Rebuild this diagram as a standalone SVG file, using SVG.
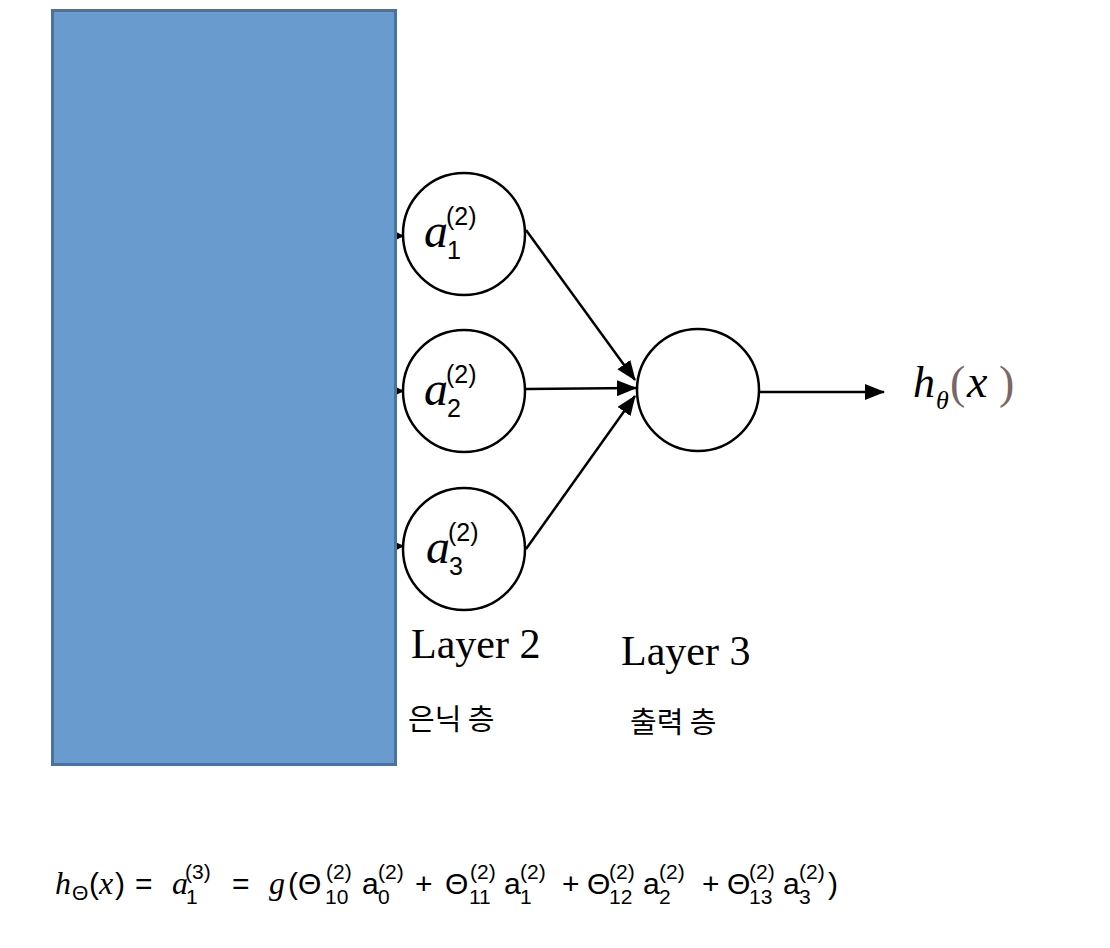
<svg xmlns="http://www.w3.org/2000/svg" width="1110" height="948" viewBox="0 0 1110 948">
<style>
.node{fill:#fff;stroke:#000;stroke-width:2.5}
.conn{stroke:#000;stroke-width:2.5;fill:none;marker-end:url(#ah)}
.m{font-family:"Liberation Serif",serif;font-style:italic;fill:#000}
.d{font-family:"Liberation Sans",sans-serif;fill:#000}
.lab{font-family:"Liberation Serif",serif;font-size:42px;fill:#000}
.kr{font-family:"Noto Sans CJK KR",sans-serif;font-size:29px;fill:#000}
.f{font-family:"Liberation Sans",sans-serif;font-size:30px;fill:#000}
.fi{font-family:"Liberation Serif",serif;font-style:italic;font-size:32px;fill:#000}
.s{font-family:"Liberation Sans",sans-serif;font-size:21px;fill:#000}
</style>
<defs>
<marker id="ah" markerWidth="12" markerHeight="12" refX="11" refY="6" orient="auto" markerUnits="userSpaceOnUse" viewBox="0 0 12 12"><path d="M0,0 L12,6 L0,12 z" fill="#000"/></marker>
<marker id="ah2" markerWidth="20" markerHeight="16" refX="19" refY="8" orient="auto" markerUnits="userSpaceOnUse" viewBox="0 0 20 16"><path d="M0,0 L20,8 L0,16 z" fill="#000"/></marker>
</defs>
<rect width="1110" height="948" fill="#fff"/>
<g id="connectors">
<line x1="300" y1="234" x2="403" y2="236" class="conn"/>
<line x1="300" y1="391" x2="403" y2="391" class="conn"/>
<line x1="300" y1="549" x2="403" y2="546" class="conn"/>
<line x1="526" y1="230" x2="635" y2="380" stroke="#000" stroke-width="2.5" marker-end="url(#ah2)"/>
<line x1="526" y1="389" x2="636" y2="388" stroke="#000" stroke-width="2.5" marker-end="url(#ah2)"/>
<line x1="526" y1="549" x2="635" y2="396" stroke="#000" stroke-width="2.5" marker-end="url(#ah2)"/>
<line x1="760" y1="392" x2="884" y2="392" stroke="#000" stroke-width="2.5" marker-end="url(#ah2)"/>
</g>
<g id="input-block">
<rect x="52.5" y="10.5" width="343" height="754" fill="#6a9bcf" stroke="#4a71a0" stroke-width="3"/>
</g>
<g id="a1">
<circle cx="464" cy="234" r="61" class="node"/>
<text x="424" y="247" class="m" font-size="48">a</text>
<text x="447" y="259" class="d" font-size="25">1</text>
<text x="446" y="225" class="d" font-size="25">(2)</text>
</g>
<g id="a2">
<circle cx="464" cy="391" r="61" class="node"/>
<text x="424" y="405" class="m" font-size="48">a</text>
<text x="447" y="417" class="d" font-size="25">2</text>
<text x="446" y="383" class="d" font-size="25">(2)</text>
</g>
<g id="a3">
<circle cx="464" cy="549" r="61" class="node"/>
<text x="426" y="563" class="m" font-size="48">a</text>
<text x="449" y="575" class="d" font-size="25">3</text>
<text x="448" y="541" class="d" font-size="25">(2)</text>
</g>
<g id="out">
<circle cx="698" cy="390" r="61" class="node"/>
</g>
<g id="h-label">
<text x="913" y="397" class="m" font-size="44">h</text>
<text x="936" y="409" class="m" font-size="26">θ</text>
<text x="950" y="398" font-family="Liberation Serif,serif" font-size="46" fill="#7a6664">(</text>
<text x="967" y="397" class="m" font-size="46">x</text>
<text x="999" y="398" font-family="Liberation Serif,serif" font-size="46" fill="#7a6664">)</text>
</g>
<g id="labels">
<text x="411" y="658" class="lab">Layer 2</text>
<text x="621" y="665" class="lab">Layer 3</text>
<text x="408" y="730" class="kr">은닉 층</text>
<text x="630" y="733" class="kr">출력 층</text>
</g>
<g id="formula">
<text x="55" y="894" class="fi">h</text>
<text x="72" y="900" class="s" font-size="16">Θ</text>
<text x="89" y="894" class="f">(</text>
<text x="99" y="894" class="fi">x</text>
<text x="115" y="894" class="f">)</text>
<text x="135" y="894" class="f">=</text>
<text x="172" y="894" class="fi">a</text>
<text x="186" y="904" class="s">1</text>
<text x="185" y="879" class="s">(3)</text>
<text x="232" y="894" class="f">=</text>
<text x="269" y="894" class="fi">g</text>
<text x="288" y="894" class="f">(Θ</text>
<text x="325" y="904" class="s">10</text>
<text x="326" y="879" class="s">(2)</text>
<text x="362" y="894" class="f">a</text>
<text x="378" y="904" class="s">0</text>
<text x="378" y="879" class="s">(2)</text>
<text x="415" y="894" class="f">+</text>
<text x="445" y="894" class="f">Θ</text>
<text x="469" y="904" class="s">11</text>
<text x="470" y="879" class="s">(2)</text>
<text x="504" y="894" class="f">a</text>
<text x="520" y="904" class="s">1</text>
<text x="520" y="879" class="s">(2)</text>
<text x="562" y="894" class="f">+</text>
<text x="587" y="894" class="f">Θ</text>
<text x="609" y="904" class="s">12</text>
<text x="609" y="879" class="s">(2)</text>
<text x="643" y="894" class="f">a</text>
<text x="659" y="904" class="s">2</text>
<text x="659" y="879" class="s">(2)</text>
<text x="702" y="894" class="f">+</text>
<text x="727" y="894" class="f">Θ</text>
<text x="749" y="904" class="s">13</text>
<text x="749" y="879" class="s">(2)</text>
<text x="783" y="894" class="f">a</text>
<text x="799" y="904" class="s">3</text>
<text x="799" y="879" class="s">(2)</text>
<text x="828" y="894" class="f">)</text>
</g>
</svg>
